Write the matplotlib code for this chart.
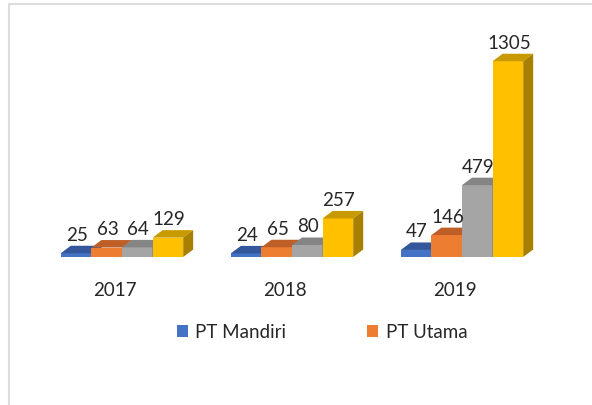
import matplotlib
matplotlib.use("Agg")
import matplotlib.pyplot as plt
from matplotlib.patches import Polygon, Rectangle
import numpy as np

years = ["2017", "2018", "2019"]
series_names = ["PT Mandiri", "PT Utama", "Series 3", "Series 4"]
mandiri = [25, 24, 47]
utama = [63, 65, 146]
series3 = [64, 80, 479]
series4 = [129, 257, 1305]
values = [mandiri, utama, series3, series4]

front_colors = ["#4472C4", "#ED7D31", "#A5A5A5", "#FFC000"]
top_colors = ["#33579A", "#BE5F27", "#858585", "#C99A00"]
side_colors = ["#2A4980", "#9E4F20", "#6E6E6E", "#A88000"]

W, H = 592, 406
fig = plt.figure(figsize=(W / 100, H / 100), dpi=100)
ax = fig.add_axes([0, 0, 1, 1])
ax.set_axis_off()

px_per_x = 170.0      # pixels per category
px_per_y = 0.150      # pixels per unit value
x0_px = 122.0         # centre of first group (pixels from left)
base_px = 148.0       # baseline (pixels from bottom)
ax.set_xlim(-x0_px / px_per_x, (W - x0_px) / px_per_x)
ax.set_ylim(-base_px / px_per_y, (H - base_px) / px_per_y)

# frame
fig.patches.append(Rectangle((9 / W, -0.1), 1.2, (H - 5) / H + 0.1, transform=fig.transFigure,
                             fill=False, edgecolor="#DDDDDD", linewidth=1.5, zorder=0))

bw = 0.18
dx = 10 / px_per_x
dy = 7.5 / px_per_y
x = np.arange(len(years))
txt_color = "#262626"
font = "Lato"
fs = 13.5

bars = []
for gi in range(len(years)):
    for si in range(len(values)):
        v = values[si][gi]
        xc = x[gi] + (si - 1.5) * bw
        xl, xr = xc - bw / 2, xc + bw / 2
        b = ax.bar(xc, v, width=bw, color=front_colors[si], zorder=10 + gi * 10 + si * 2,
                   linewidth=0, label=series_names[si] if gi == 0 else None)
        if gi == 0:
            bars.append(b)
        z = 10 + gi * 10 + si * 2 + 1
        ax.add_patch(Polygon([(xl, v), (xr, v), (xr + dx, v + dy), (xl + dx, v + dy)],
                             closed=True, facecolor=top_colors[si], edgecolor="none", zorder=z))
        ax.add_patch(Polygon([(xr, 0), (xr + dx, dy), (xr + dx, v + dy), (xr, v)],
                             closed=True, facecolor=side_colors[si], edgecolor="none", zorder=z))
        ax.annotate(str(v), (xc, v + dy), xytext=(1, 3), textcoords="offset pixels",
                    ha="center", va="bottom", fontsize=fs, color=txt_color,
                    family=font, zorder=100)

# category labels
for gi, yr in enumerate(years):
    ax.annotate(yr, (x[gi], 0), xytext=(-7, -33), textcoords="offset pixels",
                ha="center", va="center", fontsize=fs, color=txt_color, family=font)

leg = fig.legend([bars[0], bars[1]], series_names[:2], loc="center",
                 bbox_to_anchor=(322 / W, 1 - 333 / H), ncol=2, frameon=False,
                 handlelength=0.6, handleheight=0.6, handletextpad=0.4,
                 columnspacing=4.3, prop={"family": font, "size": fs})
for t in leg.get_texts():
    t.set_color(txt_color)

fig.savefig("out.png", dpi=100, facecolor="white")
